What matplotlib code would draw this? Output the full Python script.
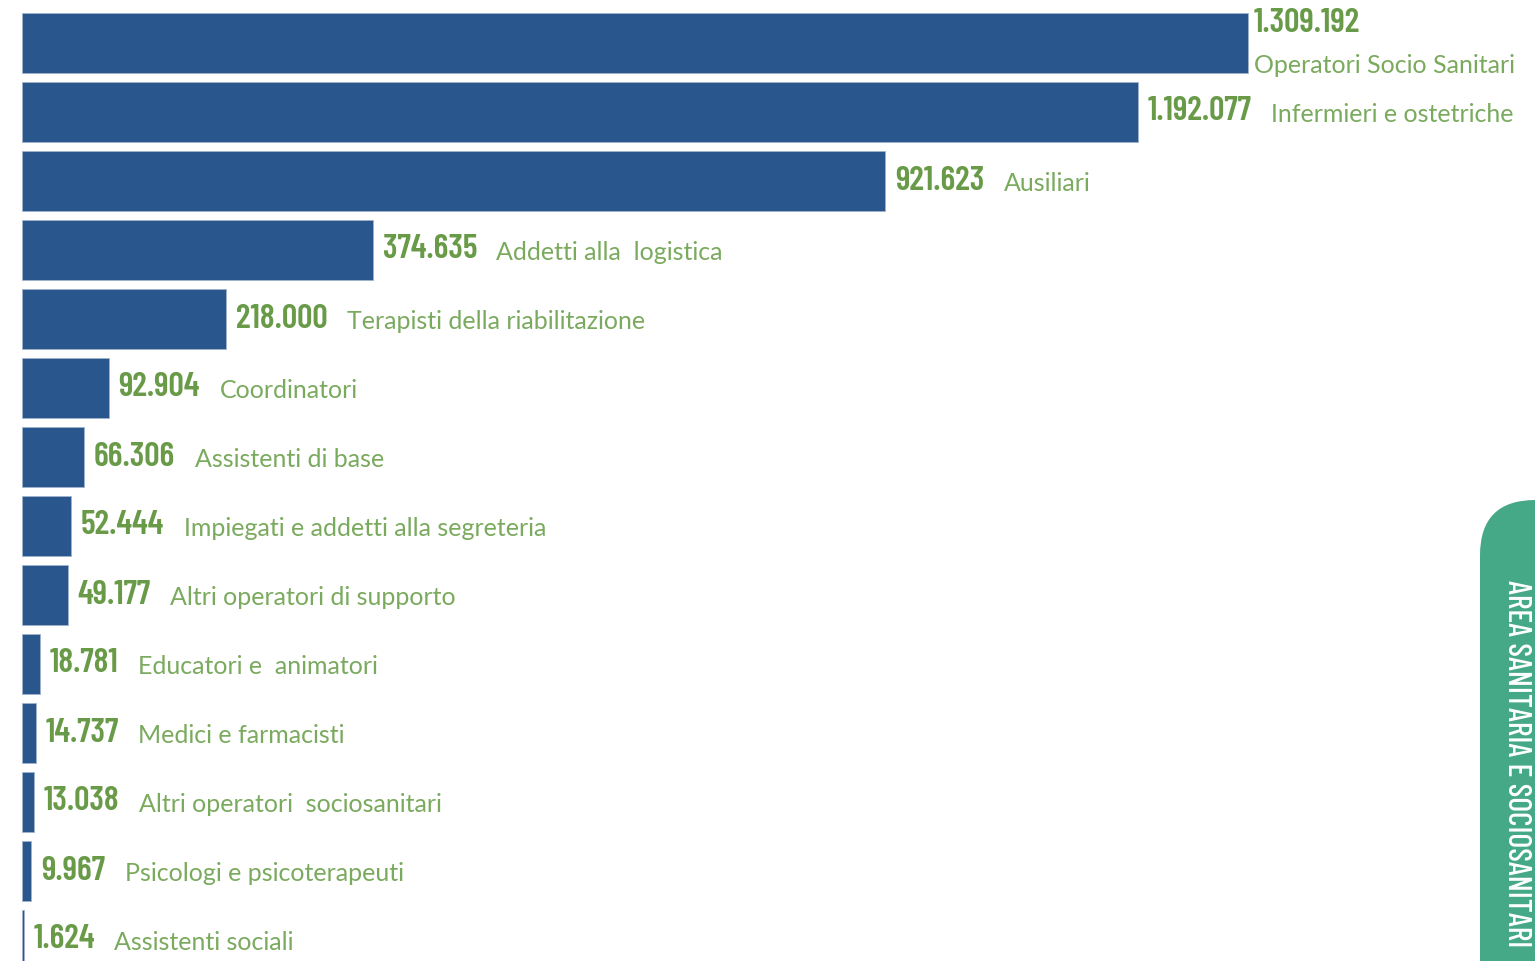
import matplotlib.pyplot as plt
from matplotlib.patches import FancyBboxPatch

categories = ["Operatori Socio Sanitari", "Infermieri e ostetriche", "Ausiliari",
              "Addetti alla  logistica", "Terapisti della riabilitazione", "Coordinatori",
              "Assistenti di base", "Impiegati e addetti alla segreteria",
              "Altri operatori di supporto", "Educatori e  animatori", "Medici e farmacisti",
              "Altri operatori  sociosanitari", "Psicologi e psicoterapeuti", "Assistenti sociali"]
values = [1309192, 1192077, 921623, 374635, 218000, 92904, 66306, 52444,
          49177, 18781, 14737, 13038, 9967, 1624]
value_labels = ["1.309.192", "1.192.077", "921.623", "374.635", "218.000", "92.904",
                "66.306", "52.444", "49.177", "18.781", "14.737", "13.038", "9.967", "1.624"]
tab_text = "AREA SANITARIA E SOCIOSANITARI"

BAR = "#2a568e"
VAL = "#689a48"
NAME = "#7aaa5e"
TAB = "#45a886"

W, H = 1535, 961
fig = plt.figure(figsize=(W / 100, H / 100), dpi=100)
ax = fig.add_axes([22 / W, 0, 1 - 22 / W, 1])

ypos = list(range(len(values)))
ax.barh(ypos, values, height=0.88, color=BAR, edgecolor="#9fb3cc", linewidth=0.6)
xmax = values[0] * (W - 22) / 1226
ax.set_xlim(0, xmax)
ax.set_ylim((H - 43) / 69, -43 / 69)
ax.axis("off")

valfont = dict(family=["Barlow Condensed", "DejaVu Sans"], weight=600, size=24.5, color=VAL)
namefont = dict(family=["Lato", "DejaVu Sans"], weight="normal", size=18, color=NAME)

for i, (v, vl, name) in enumerate(zip(values, value_labels, categories)):
    if i == 0:
        ax.annotate(vl, xy=(v, i - 0.28), xytext=(4, 0), textcoords="offset points",
                    va="center", ha="left", **valfont)
        ax.annotate(name, xy=(v, i + 0.32), xytext=(4, 0), textcoords="offset points",
                    va="center", ha="left", **namefont)
        continue
    t = ax.annotate(vl, xy=(v, i), xytext=(7, 0), textcoords="offset points",
                    va="center", ha="left", **valfont)
    ax.annotate(name, xy=(1, 0.5), xycoords=t, xytext=(14, -2), textcoords="offset points",
                va="center", ha="left", **namefont)

# side tab
tab = FancyBboxPatch((1480 / W, -0.2), 0.2, 0.2 + (H - 500) / H,
                     boxstyle="round,pad=0,rounding_size=0.036",
                     transform=fig.transFigure, facecolor=TAB, edgecolor="none",
                     mutation_aspect=W / H)
fig.patches.append(tab)
fig.text(1517 / W, (H - 580) / H, tab_text, rotation=-90, ha="center", va="top",
         color="white", fontsize=23, weight=500,
         family=["Barlow Condensed", "DejaVu Sans"])

fig.savefig("out.png", dpi=100)
